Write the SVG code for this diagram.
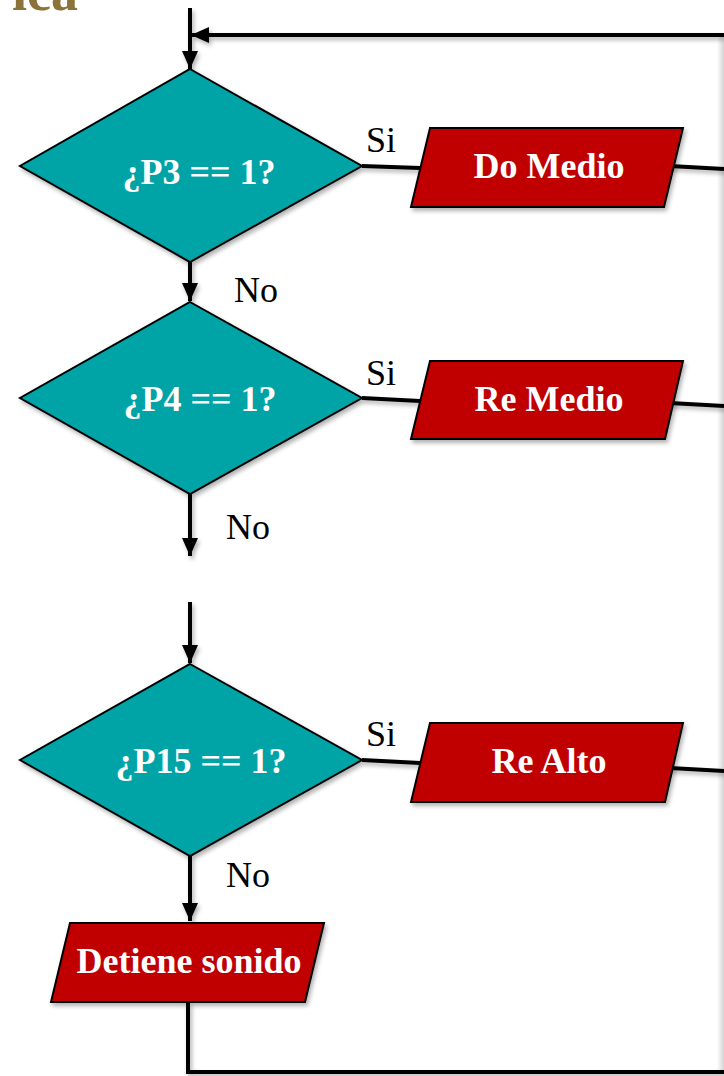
<svg xmlns="http://www.w3.org/2000/svg" width="724" height="1076" viewBox="0 0 724 1076">
<style>
.dia{fill:#00A3A6;stroke:#000;stroke-width:2}
.box{fill:#C00000;stroke:#000;stroke-width:2}
.wt{font-family:"Liberation Serif",serif;font-weight:bold;fill:#fff;font-size:36px;text-anchor:middle}
.lb{font-family:"Liberation Serif",serif;fill:#000;font-size:36px}
.cn{stroke:#000;stroke-width:4;fill:none}
</style>
<defs>
<marker id="ah" markerUnits="userSpaceOnUse" markerWidth="18" markerHeight="16" refX="18" refY="8" orient="auto">
<path d="M0,0 L18,8 L0,16 z" fill="#000"/>
</marker>
<filter id="sh" x="-10%" y="-10%" width="130%" height="130%">
<feDropShadow dx="2" dy="3" stdDeviation="2" flood-color="#000" flood-opacity="0.3"/>
</filter>
<linearGradient id="eg" x1="0" x2="1" y1="0" y2="0">
<stop offset="0" stop-color="#fff"/>
<stop offset="1" stop-color="#d4d4d4"/>
</linearGradient>
</defs>
<rect width="724" height="1076" fill="#fff"/>
<text x="78" y="10" font-family="Liberation Serif,serif" font-weight="bold" font-size="54" fill="#8B7339" text-anchor="end">ica</text>
<rect x="717" y="36" width="7" height="1036" fill="url(#eg)"/>
<g id="connectors" filter="url(#sh)">
<line class="cn" x1="190" y1="8" x2="190" y2="69" marker-end="url(#ah)"/>
<line class="cn" x1="724" y1="35" x2="191" y2="35" marker-end="url(#ah)"/>
<line class="cn" x1="190" y1="262" x2="190" y2="301" marker-end="url(#ah)"/>
<line class="cn" x1="190" y1="494" x2="190" y2="556" marker-end="url(#ah)"/>
<line class="cn" x1="190" y1="602" x2="190" y2="663" marker-end="url(#ah)"/>
<line class="cn" x1="190" y1="856" x2="190" y2="921" marker-end="url(#ah)"/>
<polyline class="cn" points="188,1002 188,1072 724,1072"/>
<line class="cn" x1="362" y1="166" x2="420" y2="168"/>
<line class="cn" x1="670" y1="166" x2="724" y2="169"/>
<line class="cn" x1="362" y1="398" x2="420" y2="401"/>
<line class="cn" x1="670" y1="403" x2="724" y2="406"/>
<line class="cn" x1="362" y1="760" x2="420" y2="763"/>
<line class="cn" x1="670" y1="768" x2="724" y2="771"/>
</g>
<g id="d1">
<polygon class="dia" filter="url(#sh)" points="190,69 362,166 190,262 20,166"/>
<text class="wt" x="199" y="184">¿P3 == 1?</text>
</g>
<g id="d2">
<polygon class="dia" filter="url(#sh)" points="190,302 362,398 190,494 20,398"/>
<text class="wt" x="200" y="411">¿P4 == 1?</text>
</g>
<g id="d3">
<polygon class="dia" filter="url(#sh)" points="190,664 362,760 190,856 20,760"/>
<text class="wt" x="201" y="773">¿P15 == 1?</text>
</g>
<g id="b1">
<polygon class="box" filter="url(#sh)" points="430,128 683,128 664,207 411,207"/>
<text class="wt" x="549" y="178">Do Medio</text>
</g>
<g id="b2">
<polygon class="box" filter="url(#sh)" points="430,361 683,361 665,439 411,439"/>
<text class="wt" x="549" y="411">Re Medio</text>
</g>
<g id="b3">
<polygon class="box" filter="url(#sh)" points="430,723 683,723 665,802 411,802"/>
<text class="wt" x="549" y="773">Re Alto</text>
</g>
<g id="b4">
<polygon class="box" filter="url(#sh)" points="70,923 324,923 305,1002 51,1002"/>
<text class="wt" x="189" y="973">Detiene sonido</text>
</g>
<g id="labels">
<text class="lb" x="366" y="152">Si</text>
<text class="lb" x="366" y="385">Si</text>
<text class="lb" x="366" y="746">Si</text>
<text class="lb" x="234" y="302">No</text>
<text class="lb" x="226" y="539">No</text>
<text class="lb" x="226" y="887">No</text>
</g>
</svg>
